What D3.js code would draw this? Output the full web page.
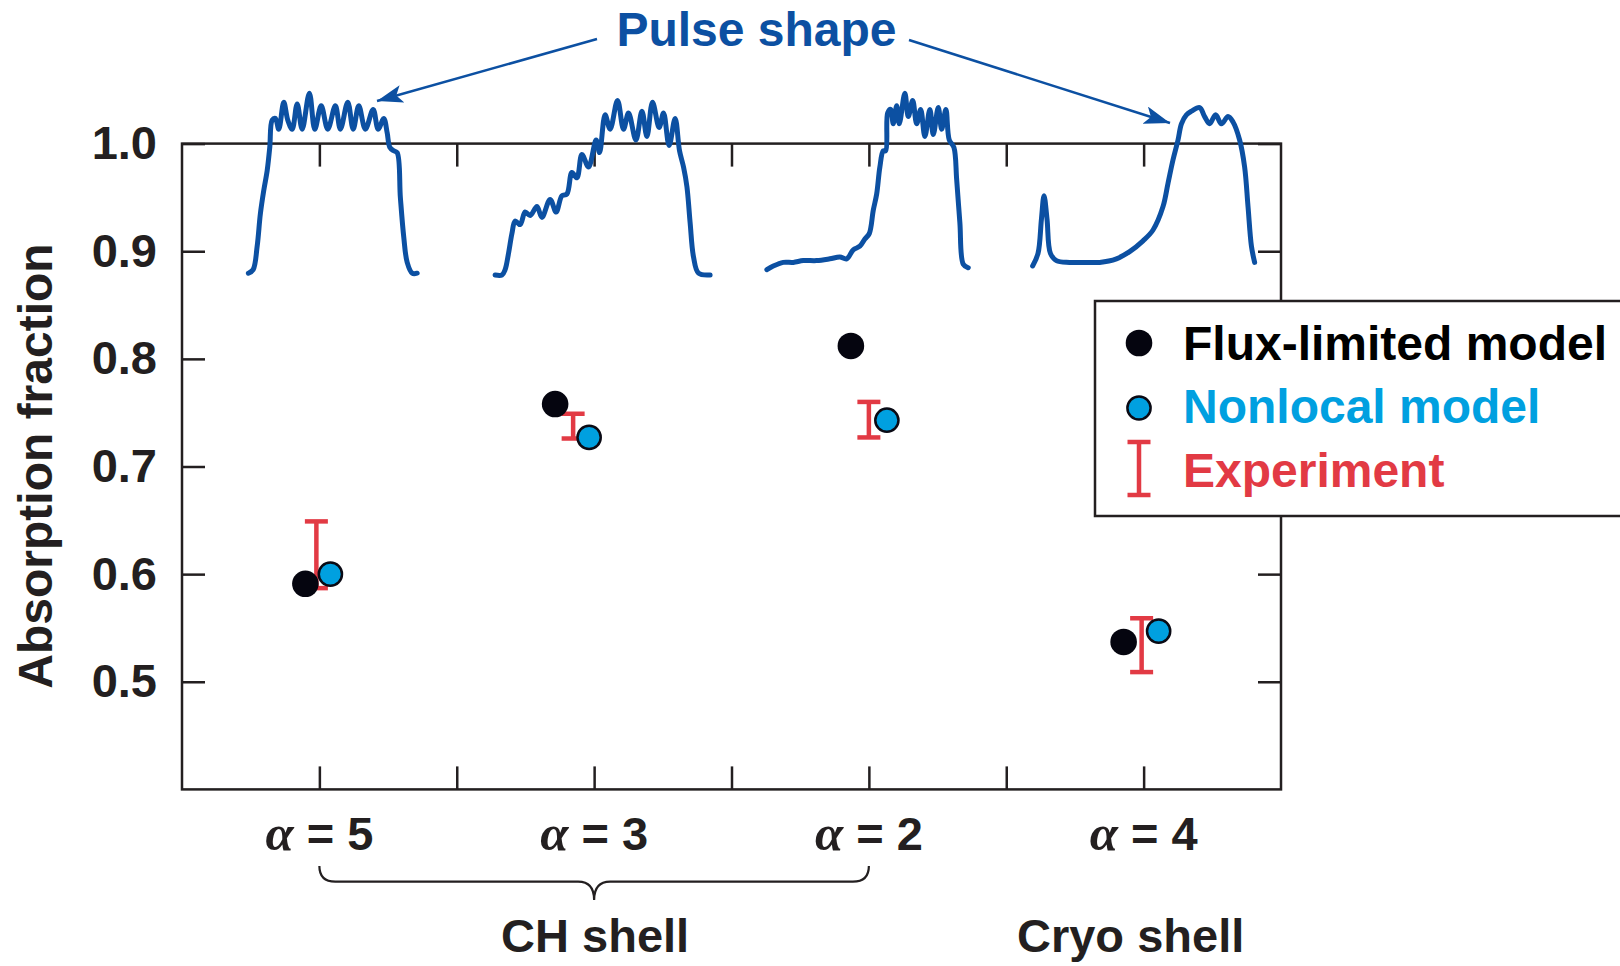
<!DOCTYPE html>
<html>
<head>
<meta charset="utf-8">
<script src="https://cdn.jsdelivr.net/npm/d3@7"></script>
<style>
  html, body { margin: 0; padding: 0; background: #fff; }
  svg { display: block; font-family: "Liberation Sans", Arial, Helvetica, sans-serif; font-weight: bold; }
</style>
</head>
<body>
<svg id="chart" width="1620" height="966"></svg>
<script>
// ---- data ----
const alphas = [5, 3, 2, 4];
const fluxLimited = [0.591, 0.758, 0.812, 0.537];
const nonlocal = [0.600, 0.727, 0.743, 0.547];
const expLow = [0.587, 0.726, 0.727, 0.509];
const expHigh = [0.649, 0.749, 0.760, 0.559];
const yTicks = [0.5, 0.6, 0.7, 0.8, 0.9, 1.0];
const legendLabels = ["Flux-limited model", "Nonlocal model", "Experiment"];
const shellLabels = ["CH shell", "Cryo shell"];
const yTitle = "Absorption fraction";
const pulseTitle = "Pulse shape";

// laser pulse shapes: [time (arb.), normalized power]
const pulseA5 = [[0,0.01],[0.24,0.03],[0.44,0.16],[0.6,0.34],[0.77,0.47],[0.94,0.58],[1.07,0.71],[1.19,0.86],[1.35,0.87],[1.52,0.81],[1.77,0.96],[1.97,0.86],[2.19,0.81],[2.44,0.95],[2.69,0.81],[3.05,1.01],[3.32,0.81],[3.64,0.94],[3.97,0.81],[4.35,0.94],[4.6,0.81],[4.97,0.96],[5.24,0.81],[5.52,0.94],[5.85,0.81],[6.24,0.92],[6.49,0.81],[6.77,0.87],[6.94,0.79],[7.07,0.71],[7.27,0.69],[7.44,0.68],[7.6,0.43],[7.77,0.21],[7.94,0.07],[8.19,0.01],[8.44,0.01]];
const pulseA3 = [[0,0],[0.34,0],[0.5,0.03],[0.67,0.12],[0.84,0.23],[1.0,0.30],[1.25,0.28],[1.5,0.35],[1.75,0.33],[2.09,0.38],[2.34,0.32],[2.75,0.42],[3.05,0.35],[3.34,0.44],[3.59,0.45],[3.84,0.57],[4.09,0.54],[4.34,0.67],[4.67,0.60],[5.05,0.75],[5.22,0.68],[5.5,0.89],[5.75,0.81],[6.12,0.97],[6.42,0.81],[6.67,0.90],[7.04,0.75],[7.34,0.91],[7.59,0.77],[7.87,0.96],[8.2,0.82],[8.42,0.90],[8.7,0.72],[9.0,0.87],[9.22,0.69],[9.42,0.60],[9.59,0.49],[9.75,0.29],[9.92,0.10],[10.17,0.01],[10.75,0]];
const pulseA2 = [[0,0.03],[0.32,0.05],[0.82,0.07],[1.32,0.07],[1.82,0.08],[2.49,0.08],[3.15,0.09],[3.65,0.10],[3.99,0.09],[4.32,0.14],[4.65,0.16],[4.9,0.20],[5.12,0.23],[5.32,0.36],[5.49,0.45],[5.65,0.60],[5.82,0.69],[5.94,0.69],[6.04,0.90],[6.19,0.92],[6.32,0.84],[6.49,0.94],[6.62,0.84],[6.9,1.01],[7.07,0.88],[7.29,0.97],[7.49,0.84],[7.69,0.92],[7.9,0.77],[8.15,0.92],[8.32,0.78],[8.57,0.93],[8.74,0.81],[8.95,0.92],[9.12,0.75],[9.35,0.71],[9.49,0.53],[9.65,0.29],[9.82,0.06],[10.07,0.04]];
const pulseA4 = [[0,0.05],[0.27,0.12],[0.44,0.31],[0.57,0.44],[0.72,0.31],[0.89,0.12],[1.19,0.08],[1.85,0.07],[2.69,0.07],[3.35,0.07],[4.19,0.09],[4.85,0.13],[5.52,0.19],[6.02,0.25],[6.52,0.38],[6.77,0.51],[7.02,0.64],[7.27,0.75],[7.44,0.84],[7.69,0.89],[7.94,0.91],[8.35,0.93],[8.6,0.88],[8.85,0.84],[9.15,0.89],[9.44,0.84],[9.77,0.88],[10.02,0.85],[10.35,0.75],[10.6,0.60],[10.77,0.38],[10.94,0.16],[11.1,0.07]];
const pulses = [pulseA5, pulseA3, pulseA2, pulseA4];

// ---- layout ----
const ink = "#231f20";
const pulseBlue = "#0c50a2";
const cyan = "#00a0e0";
const red = "#e23a44";
const fontSize = 47;
const plot = { left: 182, right: 1281, top: 143.6, bottom: 789.4 };
// horizontal nudges (px) so overlapping markers stay visible
const dodge = {
  flux: [-14, -39, -18, -20],
  exp: [-3, -21, 0, -2],
  nonlocal: [11, -5, 18, 15]
};
// left edge of each pulse inset, relative to its category centre (px)
const pulseLeft = [-71, -99, -102, -111];
const pulsePxPerUnit = 20;

const svg = d3.select("#chart");

const x = d3.scaleBand().domain(alphas).range([plot.left, plot.right]).padding(0);
const xc = a => x(a) + x.bandwidth() / 2;
const xi = d3.scaleLinear().domain([0, alphas.length]).range([plot.left, plot.right]);
const y = d3.scaleLinear().domain([0.4, 1.0]).range([plot.bottom, plot.top]);
const halfSteps = d3.range(0.5, alphas.length, 0.5);

function styleAxis(g) {
  g.select(".domain").remove();
  g.selectAll(".tick line").attr("stroke", ink).attr("stroke-width", 2.5);
  g.selectAll(".tick text").attr("fill", ink).attr("font-size", fontSize)
    .attr("font-family", "Liberation Sans, Arial, sans-serif").attr("font-weight", "bold");
}

// frame axes
svg.append("g").attr("transform", `translate(${plot.left},0)`)
  .call(d3.axisLeft(y).tickValues(yTicks).tickSize(-23).tickPadding(25).tickFormat(d3.format(".1f")))
  .call(styleAxis);
svg.append("g").attr("transform", `translate(${plot.right},0)`)
  .call(d3.axisRight(y).tickValues(yTicks).tickSize(-23).tickFormat(""))
  .call(styleAxis);
svg.append("g").attr("transform", `translate(0,${plot.bottom})`)
  .call(d3.axisBottom(xi).tickValues(halfSteps).tickSize(-23).tickFormat(""))
  .call(styleAxis);
svg.append("g").attr("transform", `translate(0,${plot.top})`)
  .call(d3.axisTop(xi).tickValues(halfSteps).tickSize(-23).tickFormat(""))
  .call(styleAxis);

svg.append("rect")
  .attr("x", plot.left).attr("y", plot.top)
  .attr("width", plot.right - plot.left).attr("height", plot.bottom - plot.top)
  .attr("fill", "none").attr("stroke", ink).attr("stroke-width", 2.5);

// category labels  (α = n)
const xLab = svg.append("g").attr("transform", `translate(0,${plot.bottom})`)
  .call(d3.axisBottom(x).tickSize(0).tickPadding(27))
  .call(styleAxis);
xLab.selectAll(".tick text").each(function(d) {
  const t = d3.select(this).text("");
  t.append("tspan").attr("font-style", "italic").attr("font-family", "Liberation Serif, serif").attr("font-size", fontSize + 4).text("α");
  t.append("tspan").text(" = " + d);
});

// brace grouping the CH-shell shots
{
  const x0 = xc(alphas[0]), x1 = xc(alphas[2]), tip = xc(alphas[1]);
  const yTop = 866, yMid = 881.7, yTip = 900, r = 16;
  const p = d3.path();
  p.moveTo(x0, yTop);
  p.quadraticCurveTo(x0, yMid, x0 + r, yMid);
  p.lineTo(tip - r, yMid);
  p.quadraticCurveTo(tip, yMid, tip, yTip);
  p.quadraticCurveTo(tip, yMid, tip + r, yMid);
  p.lineTo(x1 - r, yMid);
  p.quadraticCurveTo(x1, yMid, x1, yTop);
  svg.append("path").attr("d", p.toString()).attr("fill", "none")
    .attr("stroke", ink).attr("stroke-width", 2.2);
}
svg.selectAll("text.shell").data(shellLabels).join("text")
  .attr("class", "shell")
  .attr("x", (d, i) => i === 0 ? xc(alphas[1]) + 1 : xc(alphas[3]) - 13)
  .attr("y", 952)
  .attr("text-anchor", "middle").attr("font-size", fontSize).attr("fill", ink)
  .text(d => d);

// y-axis title
svg.append("text")
  .attr("transform", "translate(52,466) rotate(-90)")
  .attr("text-anchor", "middle").attr("font-size", fontSize + 1).attr("fill", ink)
  .text(yTitle);

// pulse-shape insets
const pY = d3.scaleLinear().domain([0, 1]).range([275, 95]);
const pulseLine = (i) => {
  const x0 = xc(alphas[i]) + pulseLeft[i];
  const px = d3.scaleLinear().domain([0, 1]).range([x0, x0 + pulsePxPerUnit]);
  return d3.line().x(d => px(d[0])).y(d => pY(d[1])).curve(d3.curveCatmullRom.alpha(0.5));
};
svg.selectAll("path.pulse").data(pulses).join("path")
  .attr("class", "pulse")
  .attr("d", (d, i) => pulseLine(i)(d))
  .attr("fill", "none").attr("stroke", pulseBlue).attr("stroke-width", 5)
  .attr("stroke-linejoin", "round").attr("stroke-linecap", "round");

// pulse-shape label and arrows
const defs = svg.append("defs");
defs.append("marker").attr("id", "head").attr("markerUnits", "userSpaceOnUse")
  .attr("markerWidth", 28).attr("markerHeight", 20).attr("refX", 26).attr("refY", 9)
  .attr("orient", "auto")
  .append("path").attr("d", "M0,0 L26,9 L0,18 L6,9 Z").attr("fill", pulseBlue);
svg.append("text").attr("x", 756.5).attr("y", 46).attr("text-anchor", "middle")
  .attr("font-size", fontSize + 1).attr("fill", pulseBlue).text(pulseTitle);
svg.append("line").attr("x1", 597).attr("y1", 39).attr("x2", 377).attr("y2", 101)
  .attr("stroke", pulseBlue).attr("stroke-width", 2.5).attr("marker-end", "url(#head)");
svg.append("line").attr("x1", 909).attr("y1", 40).attr("x2", 1170).attr("y2", 123)
  .attr("stroke", pulseBlue).attr("stroke-width", 2.5).attr("marker-end", "url(#head)");

// markers
const capW = 23, barW = 4.5;
const eb = svg.append("g");
alphas.forEach((a, i) => {
  const ex = xc(a) + dodge.exp[i];
  eb.append("line").attr("x1", ex).attr("x2", ex).attr("y1", y(expLow[i])).attr("y2", y(expHigh[i]))
    .attr("stroke", red).attr("stroke-width", barW);
  [expLow[i], expHigh[i]].forEach(v => {
    eb.append("line").attr("x1", ex - capW / 2).attr("x2", ex + capW / 2).attr("y1", y(v)).attr("y2", y(v))
      .attr("stroke", red).attr("stroke-width", barW);
  });
});
svg.append("g").selectAll("circle").data(fluxLimited).join("circle")
  .attr("cx", (d, i) => xc(alphas[i]) + dodge.flux[i]).attr("cy", d => y(d))
  .attr("r", 13.3).attr("fill", "#05050f");
svg.append("g").selectAll("circle").data(nonlocal).join("circle")
  .attr("cx", (d, i) => xc(alphas[i]) + dodge.nonlocal[i]).attr("cy", d => y(d))
  .attr("r", 11.6).attr("fill", cyan).attr("stroke", "#0a0a14").attr("stroke-width", 2.5);

// legend
const lg = svg.append("g");
lg.append("rect").attr("x", 1095).attr("y", 301).attr("width", 560).attr("height", 215)
  .attr("fill", "#fff").attr("stroke", ink).attr("stroke-width", 2.5);
const symX = 1139, txtX = 1183;
lg.append("circle").attr("cx", symX).attr("cy", 343).attr("r", 13.3).attr("fill", "#05050f");
lg.append("circle").attr("cx", symX).attr("cy", 408).attr("r", 11.6).attr("fill", cyan)
  .attr("stroke", "#0a0a14").attr("stroke-width", 2.5);
lg.append("line").attr("x1", symX).attr("x2", symX).attr("y1", 442).attr("y2", 495)
  .attr("stroke", red).attr("stroke-width", barW);
[442, 495].forEach(v => lg.append("line").attr("x1", symX - capW / 2).attr("x2", symX + capW / 2)
  .attr("y1", v).attr("y2", v).attr("stroke", red).attr("stroke-width", barW));
const legColors = ["#000", cyan, red];
const legBase = [360, 423, 487];
lg.selectAll("text").data(legendLabels).join("text")
  .attr("x", txtX).attr("y", (d, i) => legBase[i])
  .attr("font-size", fontSize + 1).attr("fill", (d, i) => legColors[i])
  .text(d => d);
</script>
</body>
</html>
